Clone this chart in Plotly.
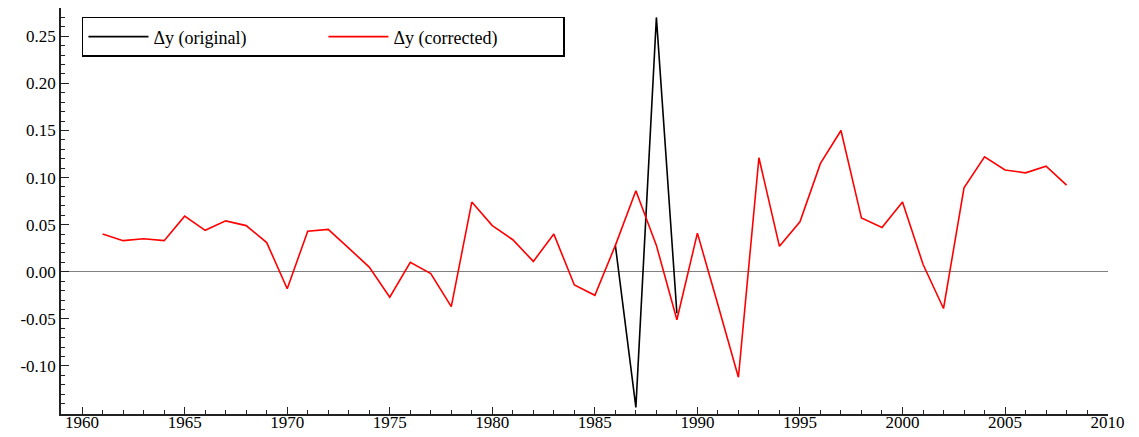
import plotly.graph_objects as go

years_corrected = list(range(1961, 2009))
dy_corrected = [0.040, 0.033, 0.035, 0.033, 0.059, 0.044, 0.054, 0.049, 0.031, -0.018,
                0.043, 0.045, 0.025, 0.005, -0.027, 0.010, -0.002, -0.037, 0.074, 0.049,
                0.034, 0.011, 0.040, -0.014, -0.025, 0.028, 0.086, 0.028, -0.051, 0.041,
                -0.035, -0.112, 0.121, 0.027, 0.053, 0.115, 0.150, 0.057, 0.047, 0.074,
                0.008, -0.039, 0.089, 0.122, 0.108, 0.105, 0.112, 0.092]

years_original = [1986, 1987, 1988, 1989]
dy_original = [0.028, -0.144, 0.270, -0.044]

y_tickvals = [-0.10, -0.05, 0.00, 0.05, 0.10, 0.15, 0.20, 0.25]
y_ticktext = ["-0.10", "-0.05", "0.00", "0.05", "0.10", "0.15", "0.20", "0.25"]

FONT = "Liberation Serif"

fig = go.Figure()
fig.add_trace(go.Scatter(x=years_original, y=dy_original, mode="lines",
                         name="\u0394y (original)", line=dict(color="black", width=1.6)))
fig.add_trace(go.Scatter(x=years_corrected, y=dy_corrected, mode="lines",
                         name="\u0394y (corrected)", line=dict(color="#ff0000", width=1.6)))

fig.update_layout(
    width=1139, height=437,
    margin=dict(l=61, r=31, t=8, b=23, autoexpand=False),
    paper_bgcolor="white", plot_bgcolor="white",
    font=dict(family=FONT, size=17, color="black"),
    showlegend=True,
    legend=dict(orientation="h", x=0.02, y=0.978, xanchor="left", yanchor="top",
                bgcolor="white", bordercolor="black", borderwidth=1.5,
                font=dict(family=FONT, size=18), itemwidth=60,
                entrywidth=165, tracegroupgap=0),
    xaxis=dict(range=[1958.97, 2010.02], tickmode="linear", tick0=1960, dtick=5,
               showgrid=False, zeroline=False, showline=True, linecolor="#222",
               linewidth=1.5, ticks="inside", ticklen=7, tickwidth=1.3, tickcolor="#222",
               automargin=False, ticklabelstandoff=-8,
               minor=dict(dtick=1, tick0=1960, ticks="inside", ticklen=4, tickcolor="#222",
                          tickwidth=1.2, showgrid=False),
               tickfont=dict(family=FONT, size=17)),
    yaxis=dict(range=[-0.151, 0.280], tickmode="array", tickvals=y_tickvals,
               ticktext=y_ticktext, showgrid=False, zeroline=True, zerolinecolor="#808080",
               zerolinewidth=1, showline=True, linecolor="#222", linewidth=1.5,
               ticks="inside", ticklen=8, tickwidth=1.3, tickcolor="#222",
               automargin=False,
               minor=dict(dtick=0.01, tick0=0, ticks="inside", ticklen=4, tickcolor="#222",
                          tickwidth=1.2, showgrid=False),
               tickfont=dict(family=FONT, size=17)),
)

fig.write_html("out.html")
